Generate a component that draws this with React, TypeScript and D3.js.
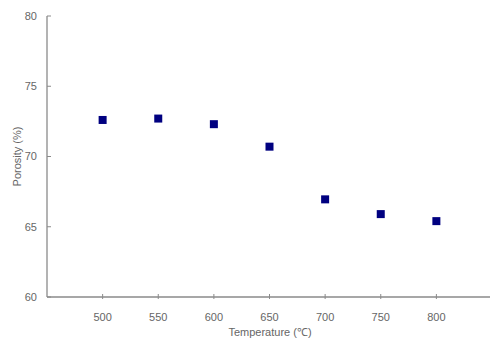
import React from "react";
import * as d3 from "d3";

const temperatures = [500, 550, 600, 650, 700, 750, 800];
const porosity = [72.6, 72.7, 72.3, 70.7, 66.95, 65.9, 65.4];
const xTicks = [500, 550, 600, 650, 700, 750, 800];
const yTicks = [60, 65, 70, 75, 80];

const W = 491;
const H = 345;

export default function App() {
  const x = d3.scaleLinear().domain([450, 850]).range([47, 492]);
  const y = d3.scaleLinear().domain([60, 80]).range([297, 16]);
  const axisColor = "#8a8a8a";
  const textColor = "#666";
  const font = "'Liberation Sans', Arial, sans-serif";
  const ms = 8;
  return (
    <svg width={W} height={H} style={{ position: "absolute", left: 0, top: 0, background: "#fff" }}>
      {/* y axis */}
      <line x1={x(450)} x2={x(450)} y1={y(80)} y2={y(60)} stroke={axisColor} strokeWidth={1.3} />
      {yTicks.map((t) => (
        <g key={"y" + t}>
          <line x1={x(450)} x2={x(450) + 4} y1={y(t)} y2={y(t)} stroke={axisColor} strokeWidth={1} />
          <text x={37} y={y(t)} dy="0.35em" textAnchor="end" fontSize={11} fill={textColor} fontFamily={font}>
            {t}
          </text>
        </g>
      ))}
      {/* x axis */}
      <line x1={x(450)} x2={490} y1={y(60)} y2={y(60)} stroke={axisColor} strokeWidth={1.3} />
      {xTicks.map((t) => (
        <g key={"x" + t}>
          <line x1={x(t)} x2={x(t)} y1={y(60) - 3} y2={y(60) + 2} stroke={axisColor} strokeWidth={1} />
          <text x={x(t)} y={317} dy="0.35em" textAnchor="middle" fontSize={11} fill={textColor} fontFamily={font}>
            {t}
          </text>
        </g>
      ))}
      <text x={270} y={336} textAnchor="middle" fontSize={11} fill={textColor} fontFamily={font}>
        Temperature (℃)
      </text>
      <text
        transform={`translate(17,${(y(80) + y(60)) / 2}) rotate(-90)`}
        textAnchor="middle"
        dy="0.35em"
        fontSize={11}
        fill={textColor}
        fontFamily={font}
      >
        Porosity (%)
      </text>
      {temperatures.map((t, i) => (
        <rect
          key={"p" + t}
          x={x(t) - ms / 2}
          y={y(porosity[i]) - ms / 2}
          width={ms}
          height={ms}
          fill="#000080"
        />
      ))}
    </svg>
  );
}
